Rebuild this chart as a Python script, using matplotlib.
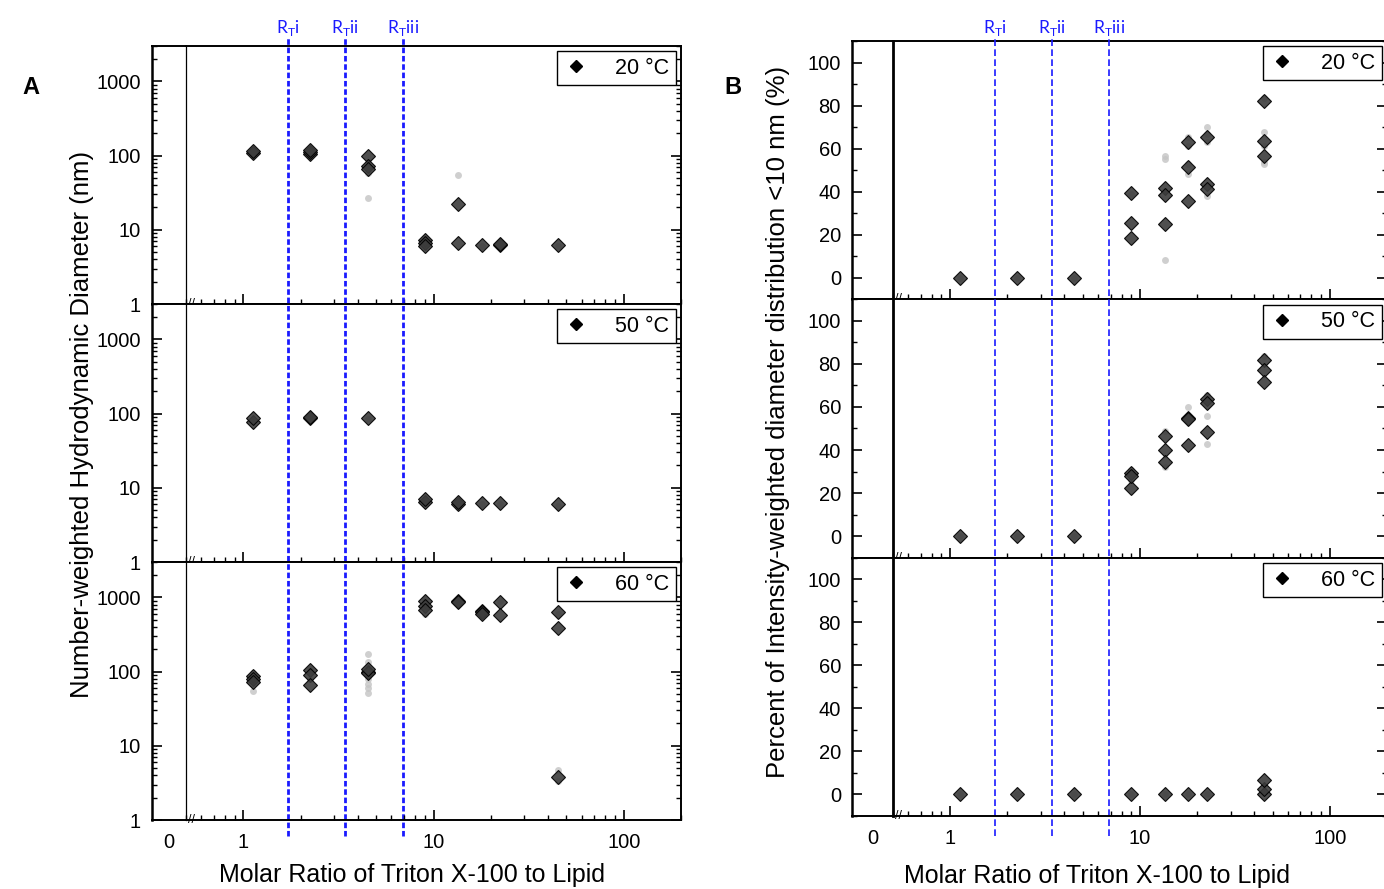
import matplotlib
matplotlib.use("Agg")
import matplotlib.pyplot as plt
import matplotlib.transforms as mtransforms
from matplotlib.lines import Line2D
from matplotlib.ticker import FixedLocator, FuncFormatter, MultipleLocator, NullFormatter, LogLocator

plt.rcParams['font.family'] = ['Liberation Sans', 'DejaVu Sans']

W, H = 1384, 889

# molar ratio of Triton X-100 to lipid
ratio = [1.125, 2.25, 4.5, 9, 13.5, 18, 22.5, 45]
temps = ["20 °C", "50 °C", "60 °C"]
rt_ratio = [1.72, 3.44, 6.9]
rt_names = ["i", "ii", "iii"]

# A: number-weighted hydrodynamic diameter (nm), one list per ratio
a20 = [[110, 116], [106, 112, 120], [100, 72, 66], [7.2, 6.6, 6.1],
       [22, 6.7], [6.3], [6.2, 6.5], [6.3]]
a20_rep = [[108], [115], [26.5, 58], [6.8], [54], [6.0], [6.0], [6.1]]
a50 = [[78, 86], [86, 89], [87], [6.5, 7.0], [6.1, 6.4], [6.3], [6.3], [6.1]]
a50_rep = [[80], [85], [84], [6.2], [5.5], [6.0], [6.0], [5.7]]
a60 = [[88, 80, 72], [104, 89, 67], [100, 95, 108], [900, 775, 675],
       [900, 855], [660, 630, 590], [880, 575], [645, 390, 3.8]]
a60_rep = [[55, 95], [80, 110], [174, 134, 115, 69, 51, 80, 60], [600, 950],
           [950], [700], [900], [600, 4.7, 3.4]]

# B: percent of intensity-weighted distribution < 10 nm
b20 = [[0], [0], [0], [39.2, 25.3, 18.6], [41.7, 38.6, 25],
       [63.3, 51.6, 35.8], [65.6, 43.6, 41.2], [82, 63.4, 56.4]]
b20_rep = [[0], [0], [0], [39], [55, 56.5, 8.4], [65.6, 61.4, 48.2, 53],
           [69.9, 63, 37.8, 67], [67.6, 52.9, 54, 83.5, 61]]
b50 = [[0], [0], [0], [29.1, 22.5, 28], [46.5, 40, 34.4],
       [55, 54.3, 42.3], [63.9, 62, 48.5], [81.9, 77, 71.6]]
b50_rep = [[0], [0], [0], [26, 30.5], [49, 32], [60, 56],
           [55.8, 42.6, 65.6], [83.5]]
b60 = [[0], [0], [0], [0], [0], [0], [0], [0, 2.6, 6.8]]
b60_rep = [[0], [0], [0], [0], [0], [0], [0], [1.5]]


def expand(groups):
    xs, ys = [], []
    for r, vals in zip(ratio, groups):
        xs += [r] * len(vals)
        ys += vals
    return xs, ys


def rect(x0, x1, ytop, ybot):
    return [x0 / W, 1 - ybot / H, (x1 - x0) / W, (ybot - ytop) / H]


fig = plt.figure(figsize=(W / 100, H / 100), dpi=100)


def panel(cols, ytop, ybot, log_y, main, rep, temp, bottom, break_lw):
    x0, xb, x1 = cols
    axl = fig.add_axes(rect(x0, xb, ytop, ybot))
    if log_y:
        axl.set_yscale('log')
    ax = fig.add_axes(rect(xb, x1, ytop, ybot), sharey=axl)
    ax.set_xscale('log')

    gx, gy = expand(rep)
    ax.plot(gx, gy, 'o', ms=5, color='#c4c4c4', mec='none', alpha=0.8, zorder=2)
    mx, my = expand(main)
    ax.plot(mx, my, 'D', ms=7.5, mfc='#3c3c3c', mec='black', mew=0.8,
            alpha=0.9, ls='none', zorder=3)

    ax.set_xlim(0.5, 200)
    if log_y:
        axl.set_ylim(1, 3000)
        axl.yaxis.set_major_locator(FixedLocator([1, 10, 100, 1000]))
        axl.yaxis.set_major_formatter(FuncFormatter(lambda v, p: f"{v:g}"))
        axl.yaxis.set_minor_locator(LogLocator(subs=range(2, 10)))
        axl.yaxis.set_minor_formatter(NullFormatter())
    else:
        axl.set_ylim(-10, 110)
        axl.yaxis.set_major_locator(FixedLocator([0, 20, 40, 60, 80, 100]))
        axl.yaxis.set_minor_locator(MultipleLocator(10))

    # left narrow part holding the zero position
    axl.set_xlim(-1, 1)
    axl.set_xticks([0])
    axl.set_xticklabels(['0'] if bottom else [''])
    axl.tick_params(axis='x', length=0, pad=9, labelsize=14.5)
    axl.tick_params(axis='y', which='both', direction='in', left=True,
                    right=False, labelsize=14.5, pad=8)
    axl.tick_params(axis='y', which='major', length=7, width=1.2)
    axl.tick_params(axis='y', which='minor', length=3.5, width=1)
    axl.spines['right'].set_visible(False)
    axl.spines['left'].set_linewidth(1.8)
    for s in ['top', 'bottom']:
        axl.spines[s].set_linewidth(1.4)

    ax.xaxis.set_major_locator(FixedLocator([1, 10, 100]))
    ax.xaxis.set_major_formatter(FuncFormatter(lambda v, p: f"{v:g}"))
    ax.xaxis.set_minor_locator(LogLocator(subs=range(2, 10)))
    ax.xaxis.set_minor_formatter(NullFormatter())
    ax.tick_params(axis='x', which='both', direction='in', top=False,
                   labelbottom=bottom, labelsize=14.5, pad=9)
    ax.tick_params(axis='x', which='major', length=7, width=1.2)
    ax.tick_params(axis='x', which='minor', length=3.5, width=1)
    ax.tick_params(axis='y', which='both', direction='in', left=False,
                   right=True, labelleft=False)
    ax.tick_params(axis='y', which='major', length=7, width=1.2)
    ax.tick_params(axis='y', which='minor', length=3.5, width=1)
    ax.spines['left'].set_linewidth(break_lw)
    for s in ['top', 'bottom', 'right']:
        ax.spines[s].set_linewidth(1.4)
    ax.text(0.004, 0.0, "//", transform=ax.transAxes, fontsize=9,
            ha='left', va='center', zorder=5)

    handle = Line2D([], [], marker='D', color='black', ls='none', ms=6.5)
    leg = ax.legend([handle], [temp], loc='upper right', fontsize=15.5,
                    frameon=True, fancybox=False, edgecolor='black',
                    framealpha=1, handlelength=1.2, handletextpad=1.2,
                    borderaxespad=0.25, borderpad=0.3)
    leg.get_frame().set_linewidth(1.0)
    return ax


def column(cols, ytop, ybot, log_y, sets, break_lw, rt_lw, rt_dash):
    step = (ybot - ytop) / 3
    axes = []
    for i, (main, rep) in enumerate(sets):
        axes.append(panel(cols, ytop + i * step, ytop + (i + 1) * step, log_y,
                          main, rep, temps[i], i == 2, break_lw))
    axb = axes[-1]
    trans = mtransforms.blended_transform_factory(axb.transData, fig.transFigure)
    for r, name in zip(rt_ratio, rt_names):
        axb.plot([r, r], [1 - 836 / H, 1 - 37 / H], transform=trans,
                 clip_on=False, color='#1a1aff', lw=rt_lw, dashes=rt_dash,
                 zorder=1)
        axb.text(r, 1 - 28 / H, r"R$_\mathregular{T}$" + name, transform=trans,
                 ha='center', va='center', color='#1a1aff', fontsize=12.5,
                 family=['Lato', 'DejaVu Sans'])
    axb.set_xlim(0.5, 200)
    return axes


column((152, 186, 681), 46, 820, True,
       [(a20, a20_rep), (a50, a50_rep), (a60, a60_rep)], 0.9, 2.0, (2, 1))
column((852, 893, 1387), 41, 816, False,
       [(b20, b20_rep), (b50, b50_rep), (b60, b60_rep)], 2.0, 1.2, (4, 2))

fig.text(22 / W, 1 - 88 / H, "A", fontsize=17, weight='bold', ha='left', va='center')
fig.text(724 / W, 1 - 88 / H, "B", fontsize=17, weight='bold', ha='left', va='center')

fig.text(82 / W, 1 - 424 / H, "Number-weighted Hydrodynamic Diameter (nm)",
         rotation=90, fontsize=18.5, ha='center', va='center')
fig.text(778 / W, 1 - 422 / H,
         "Percent of Intensity-weighted diameter distribution <10 nm (%)",
         rotation=90, fontsize=18.5, ha='center', va='center')
fig.text(412 / W, 1 - 875 / H, "Molar Ratio of Triton X-100 to Lipid",
         fontsize=18, ha='center', va='center')
fig.text(1097 / W, 1 - 876 / H, "Molar Ratio of Triton X-100 to Lipid",
         fontsize=18, ha='center', va='center')

fig.savefig("out.png", dpi=100)
